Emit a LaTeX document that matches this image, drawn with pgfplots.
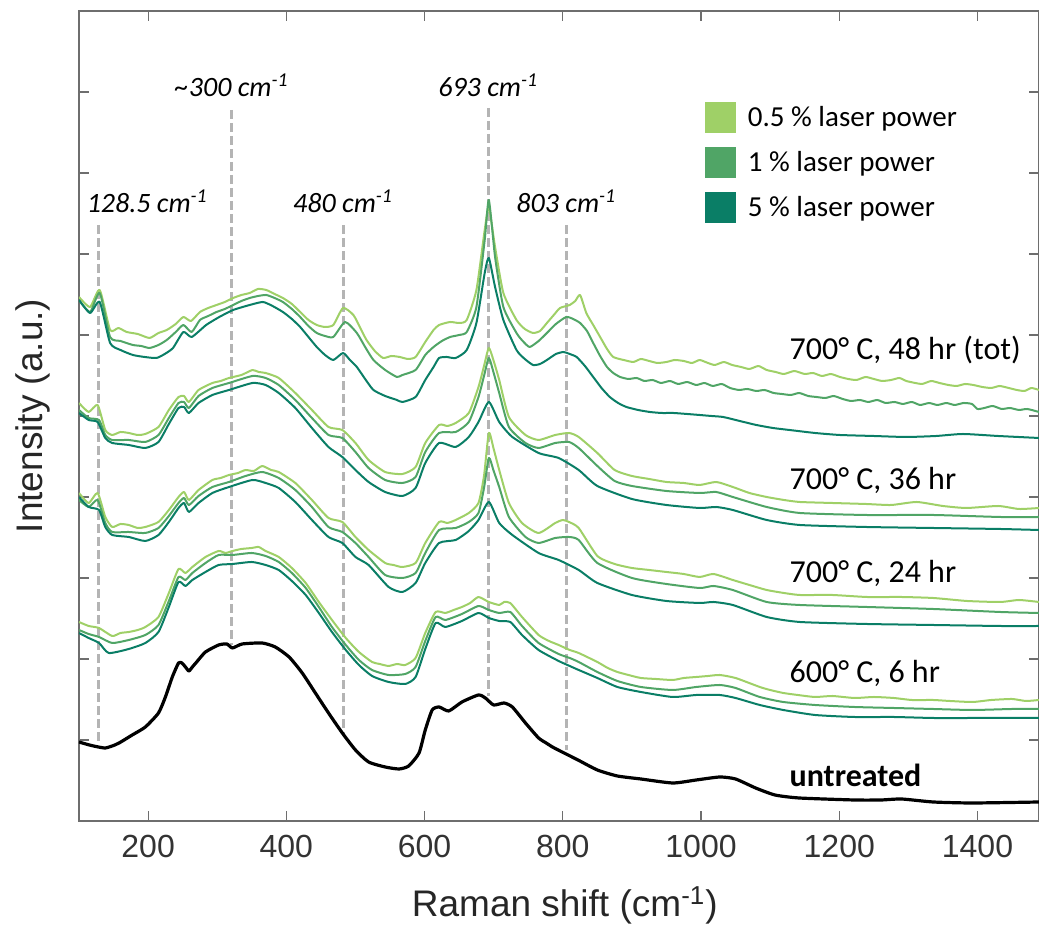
\documentclass[border=0pt]{standalone}
\usepackage{fontspec}
\setmainfont{Carlito}
\newfontfamily\arialf{Liberation Sans}
\usepackage{pgfplots}
\pgfplotsset{compat=1.18}
\definecolor{cA}{HTML}{9FD067}
\definecolor{cB}{HTML}{50A566}
\definecolor{cC}{HTML}{0A7E66}
\definecolor{axg}{HTML}{6E6E6E}
\definecolor{dashg}{HTML}{B4B4B4}
\begin{document}
\begin{tikzpicture}
\begin{axis}[
  name=ax,
  scale only axis, width=480pt, height=405pt,
  xmin=100, xmax=1489, ymin=0, ymax=810,
  xtick={200,400,...,1400},
  ytick={81,162,243,324,405,486,567,648,729},
  yticklabels={},
  tick align=inside,
  major tick length=5pt,
  axis line style={axg, line width=0.6pt},
  tick style={axg, line width=0.6pt},
  /pgf/number format/assume math mode=true,
  /pgf/number format/1000 sep={},
  tick label style={font=\arialf\fontsize{16}{19}\selectfont, text=black!80},
  xticklabel style={yshift=-3.5pt},
  xlabel={Raman shift (cm\textsuperscript{-1})},
  ylabel={Intensity (a.u.)},
  label style={font=\arialf\fontsize{18.5}{22}\selectfont, text=black!85},
  x label style={at={(axis description cs:0.506,-0.1185)}, anchor=base},
  y label style={at={(axis description cs:-0.0375,0.5)}, anchor=base, rotate=0},
  legend style={at={(axis description cs:0.652,0.888)}, anchor=north west,
    draw=none, fill=none, inner sep=0pt, outer sep=0pt, row sep=7pt,
    font=\fontsize{14.5}{17}\selectfont,
    nodes={inner sep=0pt, anchor=base west},
    /tikz/every odd column/.append style={column sep=6pt}},
  legend cell align=left,
  legend image code/.code={\fill[#1] (0pt,-2.9pt) rectangle (15.5pt,12.6pt);},
  every axis plot/.append style={line join=round},
  spec/.style={line width=1pt, smooth, tension=0.35, forget plot},
]
% legend entries
\addlegendimage{fill=cA, draw=none}
\addlegendentry{0.5 \% laser power}
\addlegendimage{fill=cB, draw=none}
\addlegendentry{1 \% laser power}
\addlegendimage{fill=cC, draw=none}
\addlegendentry{5 \% laser power}

% dashed reference lines
\addplot[dashg, line width=1.5pt, dash pattern=on 4.5pt off 2pt, forget plot] coordinates {(128.5,596) (128.5,76)};
\addplot[dashg, line width=1.5pt, dash pattern=on 4.5pt off 2pt, forget plot] coordinates {(321,711) (321,176)};
\addplot[dashg, line width=1.5pt, dash pattern=on 4.5pt off 2pt, forget plot] coordinates {(483,596) (483,86)};
\addplot[dashg, line width=1.5pt, dash pattern=on 4.5pt off 2pt, forget plot] coordinates {(693,713) (693,125)};
\addplot[dashg, line width=1.5pt, dash pattern=on 4.5pt off 2pt, forget plot] coordinates {(806,596) (806,71)};

% ===== 600 C, 6 hr =====
\addplot[cA, spec] coordinates {
(100,199)(114,195)(129,193)(148,185)(160,188)(172,189)(185,191)(196,194)(215,204)(230,228)(244,252)(254,248)(264,254)(283,264)(302,270)(312,268)(322,270)(335,272)(350,273)(360,274)(370,270)(389,264)(408,253)(428,238)(447,219)(466,201)(486,183)(505,169)(524,159)(535,157)(548,155)(560,157)(572,156)(587,163)(601,188)(616,209)(630,208)(642,211)(654,214)(666,218)(678,224)(693,219)(708,216)(715,219)(724,218)(741,204)(765,186)(780,180)(794,176)(810,171)(823,168)(850,159)(865,153)(879,149)(895,146)(913,143)(935,142)(959,141)(975,143)(993,144)(1010,145)(1027,146)(1050,143)(1085,134)(1100,131)(1119,128)(1140,126)(1165,124)(1190,125)(1222,123)(1250,124)(1279,123)(1305,121)(1336,121)(1360,120)(1393,119)(1420,121)(1450,122)(1470,120)(1489,121)};
\addplot[cB, spec] coordinates {
(100,191)(114,187)(129,184)(148,178)(172,181)(196,186)(215,196)(230,220)(244,244)(254,241)(264,248)(283,258)(302,266)(322,266)(350,268)(370,265)(389,259)(408,248)(428,233)(447,214)(466,194)(486,176)(505,161)(524,151)(548,146)(572,147)(587,154)(601,180)(616,204)(630,201)(654,207)(678,215)(693,211)(708,208)(724,209)(741,195)(765,178)(794,167)(810,163)(823,159)(850,149)(879,140)(913,134)(959,131)(993,134)(1027,136)(1050,133)(1085,124)(1119,119)(1165,116)(1222,114)(1279,113)(1336,112)(1393,111)(1450,112)(1489,112)};
\addplot[cC, spec] coordinates {
(100,188)(114,183)(129,178)(143,168)(172,172)(196,178)(215,189)(230,214)(244,239)(254,235)(264,241)(283,249)(302,256)(322,257)(350,259)(370,256)(389,251)(408,240)(428,226)(447,208)(466,189)(486,171)(505,156)(524,145)(548,139)(572,137)(587,144)(601,172)(616,198)(630,194)(654,200)(678,208)(693,203)(708,200)(724,199)(741,186)(765,171)(794,160)(810,155)(823,151)(850,143)(879,134)(913,129)(959,124)(993,126)(1027,126)(1050,123)(1085,116)(1119,111)(1165,106)(1222,104)(1279,104)(1336,103)(1393,103)(1450,103)(1489,103)};

% ===== 700 C, 24 hr =====
\addplot[cA, spec] coordinates {
(100,328)(114,318)(127,328)(138,304)(148,294)(160,297)(172,296)(185,293)(196,294)(215,299)(230,311)(244,324)(252,329)(259,321)(273,331)(293,341)(305,343)(317,346)(330,348)(341,351)(353,350)(365,355)(378,351)(389,349)(413,338)(437,321)(461,303)(481,299)(500,284)(519,271)(543,258)(555,256)(568,254)(587,258)(601,278)(621,299)(633,298)(645,301)(664,308)(678,318)(686,345)(693,388)(700,372)(708,351)(722,318)(741,298)(765,288)(789,298)(800,301)(809,299)(823,293)(850,265)(875,257)(900,253)(925,251)(950,249)(975,247)(998,244)(1018,247)(1046,241)(1070,236)(1095,231)(1120,228)(1143,226)(1190,226)(1240,224)(1290,224)(1336,223)(1385,220)(1433,219)(1460,221)(1489,219)};
\addplot[cB, spec] coordinates {
(100,321)(114,314)(127,321)(138,298)(148,289)(172,289)(196,288)(215,293)(230,305)(244,318)(252,323)(259,316)(273,325)(293,334)(317,339)(341,345)(365,349)(389,343)(413,331)(437,314)(461,294)(481,289)(500,278)(519,264)(543,246)(568,243)(587,248)(601,268)(621,291)(645,293)(664,299)(678,308)(686,333)(693,363)(700,350)(708,334)(722,304)(746,284)(765,278)(789,283)(809,284)(823,281)(850,258)(900,243)(950,237)(998,233)(1018,235)(1046,231)(1095,219)(1143,216)(1240,214)(1336,212)(1433,209)(1489,208)};
\addplot[cC, spec] coordinates {
(100,324)(114,314)(129,311)(138,294)(148,286)(172,284)(196,280)(215,286)(230,299)(244,313)(252,318)(259,309)(273,318)(293,328)(317,334)(351,341)(370,338)(389,333)(413,319)(437,301)(461,284)(481,278)(500,264)(519,256)(548,234)(568,229)(587,238)(601,258)(621,278)(645,281)(664,290)(678,301)(693,319)(708,298)(727,286)(765,268)(794,261)(823,251)(850,238)(900,226)(950,220)(998,218)(1018,219)(1046,216)(1095,204)(1143,199)(1240,197)(1336,196)(1433,195)(1489,195)};

% ===== 700 C, 36 hr =====
\addplot[cA, spec] coordinates {
(100,418)(114,409)(127,416)(138,391)(148,386)(160,389)(172,388)(185,386)(196,387)(215,394)(230,411)(244,424)(252,425)(259,419)(273,431)(293,438)(305,440)(317,443)(335,446)(351,451)(360,449)(370,448)(389,443)(413,428)(437,411)(461,394)(481,391)(500,378)(519,361)(543,349)(568,347)(587,354)(601,378)(621,396)(633,395)(645,398)(664,408)(678,434)(686,455)(693,473)(700,460)(708,441)(722,404)(746,386)(765,381)(789,386)(809,388)(823,384)(850,368)(875,351)(900,345)(925,342)(950,339)(975,338)(998,336)(1022,339)(1046,334)(1070,328)(1095,324)(1120,321)(1143,319)(1190,318)(1239,317)(1275,316)(1312,319)(1350,315)(1384,313)(1430,315)(1460,312)(1489,313)};
\addplot[cB, spec] coordinates {
(100,411)(114,403)(129,401)(138,386)(148,381)(172,381)(196,379)(215,386)(230,403)(244,418)(252,419)(259,413)(273,425)(293,433)(317,438)(351,445)(370,443)(389,436)(413,421)(437,403)(461,386)(481,383)(500,369)(519,353)(543,341)(568,338)(587,344)(601,369)(621,388)(645,389)(664,399)(678,424)(686,445)(693,463)(700,448)(708,428)(722,394)(746,378)(765,373)(789,378)(809,379)(823,373)(850,355)(875,340)(900,335)(950,330)(998,328)(1022,329)(1046,324)(1095,314)(1143,308)(1239,306)(1336,306)(1433,304)(1489,304)};
\addplot[cC, spec] coordinates {
(100,408)(114,401)(127,399)(138,383)(148,378)(172,376)(196,373)(215,379)(230,397)(244,413)(252,414)(259,408)(273,418)(293,426)(317,431)(351,438)(370,436)(389,428)(413,413)(437,393)(461,374)(481,364)(500,351)(519,339)(543,329)(568,325)(587,333)(601,358)(621,378)(645,374)(664,384)(678,399)(693,419)(708,399)(727,384)(765,368)(794,363)(823,351)(850,335)(900,322)(950,316)(998,313)(1022,314)(1046,311)(1095,301)(1143,296)(1239,294)(1336,293)(1433,292)(1489,291)};

% ===== 700 C, 48 hr (tot) =====
\addplot[cA, spec] coordinates {
(100,524)(116,514)(130,531)(145,491)(157,493)(169,489)(185,487)(202,483)(215,488)(227,491)(240,497)(251,504)(262,500)(275,509)(287,513)(299,516)(311,519)(323,523)(335,526)(347,528)(359,532)(371,531)(383,527)(395,523)(408,517)(420,509)(432,501)(444,496)(456,494)(468,496)(482,513)(497,506)(507,493)(516,481)(528,470)(540,463)(552,465)(564,464)(576,462)(587,464)(601,479)(613,491)(621,496)(637,499)(650,498)(661,501)(675,531)(687,591)(693,614)(702,574)(714,528)(733,501)(745,492)(757,488)(767,490)(777,498)(787,506)(796,513)(810,516)(818,520)(825,526)(834,508)(844,496)(854,484)(864,472)(873,464)(888,461)(902,459)(913,462)(925,460)(937,458)(950,459)(962,461)(975,460)(987,458)(998,461)(1010,458)(1020,456)(1033,459)(1045,456)(1058,454)(1070,452)(1083,455)(1095,451)(1108,449)(1120,447)(1135,450)(1150,447)(1162,448)(1175,445)(1188,447)(1201,444)(1213,442)(1225,441)(1238,444)(1250,442)(1262,440)(1275,441)(1287,443)(1297,440)(1310,438)(1320,437)(1333,440)(1345,438)(1358,436)(1370,435)(1382,437)(1394,436)(1407,434)(1420,433)(1432,435)(1445,433)(1457,431)(1468,430)(1478,433)(1489,431)};
\addplot[cB, spec] coordinates {
(100,521)(116,509)(130,528)(145,484)(160,480)(178,476)(190,475)(202,473)(215,476)(227,481)(240,489)(251,496)(263,489)(275,501)(287,505)(299,509)(311,512)(323,516)(335,520)(347,523)(359,525)(371,526)(383,523)(395,519)(408,512)(420,504)(432,495)(444,488)(456,485)(468,484)(485,499)(502,488)(514,474)(526,461)(543,451)(560,444)(568,446)(587,451)(601,466)(613,474)(625,480)(637,484)(650,486)(661,489)(675,514)(687,581)(693,621)(702,564)(714,514)(733,488)(742,480)(752,474)(765,480)(777,488)(790,497)(805,504)(815,502)(825,498)(835,490)(844,478)(854,465)(864,454)(873,448)(883,444)(895,442)(907,443)(918,440)(930,441)(942,438)(955,440)(967,437)(980,439)(993,436)(1005,438)(1017,435)(1030,437)(1042,433)(1055,431)(1067,432)(1080,430)(1092,431)(1105,428)(1117,427)(1130,426)(1142,428)(1155,425)(1167,424)(1180,423)(1192,425)(1205,422)(1217,420)(1230,421)(1242,419)(1255,421)(1267,418)(1280,419)(1292,417)(1305,419)(1317,416)(1330,418)(1342,416)(1355,418)(1367,416)(1380,418)(1392,417)(1400,412)(1410,413)(1422,415)(1435,412)(1447,413)(1460,411)(1472,412)(1489,409)};
\addplot[cC, spec] coordinates {
(100,521)(116,508)(130,519)(145,478)(160,471)(178,466)(195,464)(212,463)(224,467)(236,473)(251,489)(263,484)(284,496)(303,504)(323,511)(347,516)(366,519)(380,515)(395,509)(408,502)(420,494)(432,484)(444,474)(456,466)(468,461)(482,468)(492,461)(502,454)(514,442)(526,431)(543,425)(560,421)(568,419)(587,424)(601,441)(613,454)(621,463)(632,464)(645,463)(661,471)(675,498)(687,548)(693,563)(702,534)(714,501)(733,471)(745,462)(757,456)(767,457)(777,461)(790,467)(801,469)(810,467)(820,464)(832,455)(844,444)(856,433)(868,424)(880,418)(892,414)(909,411)(926,409)(943,408)(960,408)(980,407)(998,406)(1015,405)(1032,404)(1056,400)(1080,396)(1104,393)(1128,391)(1165,388)(1201,386)(1250,385)(1297,384)(1340,385)(1379,387)(1430,385)(1489,383)};

% ===== untreated =====
\addplot[black, line width=1.6pt, smooth, tension=0.35, forget plot] coordinates {
(100,79)(115,76)(128,74)(138,73)(148,75)(158,78)(177,86)(196,94)(215,108)(225,124)(235,144)(244,158)(249,158)(254,154)(259,150)(264,154)(269,158)(283,169)(302,176)(314,177)(322,173)(336,177)(365,178)(384,174)(404,164)(423,148)(442,128)(461,108)(481,88)(500,71)(519,59)(543,54)(563,52)(577,55)(592,68)(601,91)(611,111)(621,114)(635,110)(654,119)(678,126)(688,123)(700,116)(715,118)(727,114)(746,98)(765,83)(776,78)(785,74)(799,69)(822,61)(850,51)(879,45)(913,42)(959,38)(993,41)(1027,44)(1050,42)(1079,33)(1107,26)(1142,23)(1222,21)(1260,21)(1290,22)(1336,19)(1393,18)(1489,19)};

% peak annotations
\node[anchor=base west, font=\itshape\fontsize{14}{16}\selectfont] at (axis cs:101,608) {128.5 cm\textsuperscript{-1}};
\node[anchor=base, font=\itshape\fontsize{14}{16}\selectfont] at (axis cs:321,724) {\textasciitilde300 cm\textsuperscript{-1}};
\node[anchor=base, font=\itshape\fontsize{14}{16}\selectfont] at (axis cs:482,608) {480 cm\textsuperscript{-1}};
\node[anchor=base, font=\itshape\fontsize{14}{16}\selectfont] at (axis cs:692,724) {693 cm\textsuperscript{-1}};
\node[anchor=base, font=\itshape\fontsize{14}{16}\selectfont] at (axis cs:805,608) {803 cm\textsuperscript{-1}};

% series labels
\node[anchor=base west, font=\fontsize{16}{19}\selectfont] at (axis cs:1118,461) {700° C, 48 hr (tot)};
\node[anchor=base west, font=\fontsize{16}{19}\selectfont] at (axis cs:1118,331) {700° C, 36 hr};
\node[anchor=base west, font=\fontsize{16}{19}\selectfont] at (axis cs:1118,238) {700° C, 24 hr};
\node[anchor=base west, font=\fontsize{16}{19}\selectfont] at (axis cs:1118,138) {600° C, 6 hr};
\node[anchor=base west, font=\bfseries\fontsize{16}{19}\selectfont] at (axis cs:1118,34) {untreated};
\end{axis}
\pgfresetboundingbox
\path (ax.south west) ++(-39.5pt,-54.5pt) rectangle ++(519.5pt,465pt);
\end{tikzpicture}
\end{document}
